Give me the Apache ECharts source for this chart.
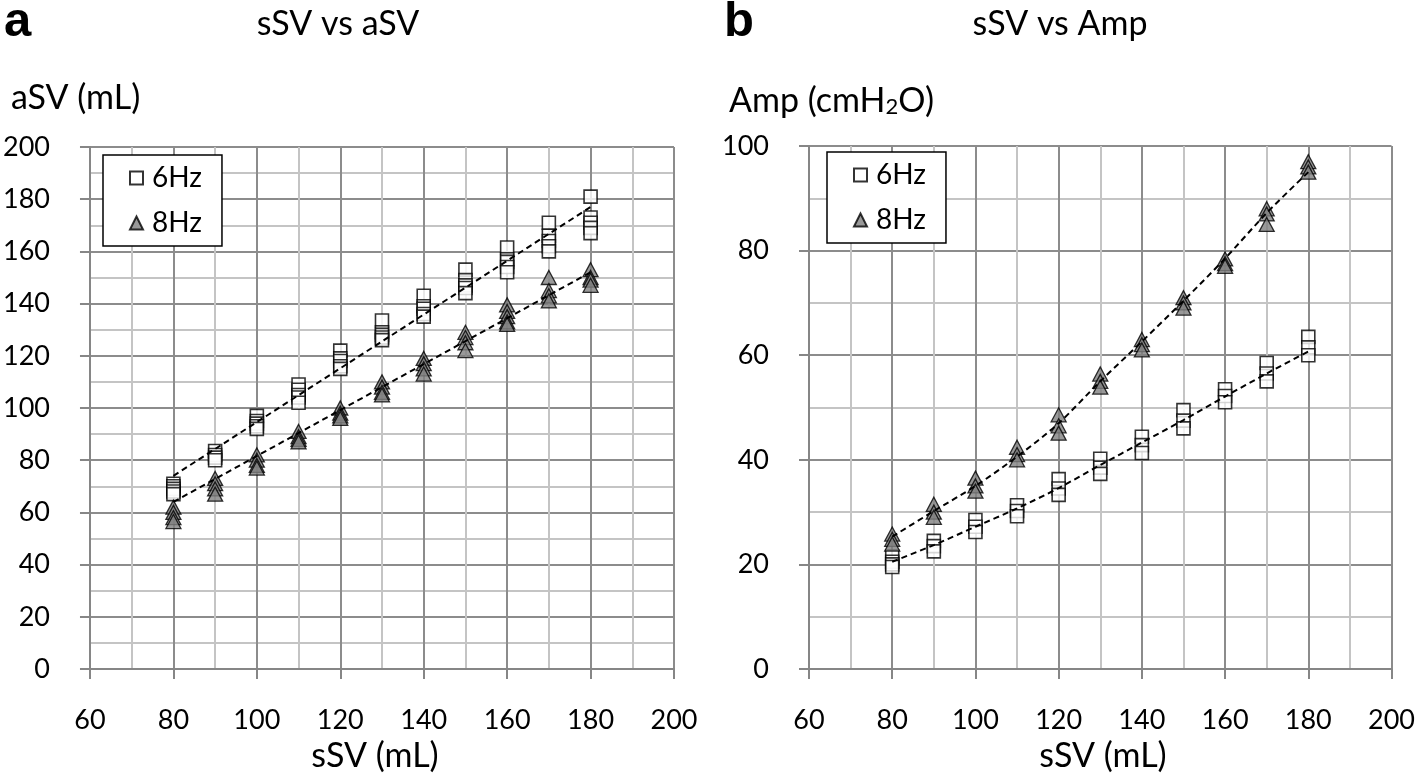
<!DOCTYPE html>
<html>
<head>
<meta charset="utf-8">
<script src="https://cdn.jsdelivr.net/npm/echarts@6/dist/echarts.min.js"></script>
<style>
  html, body { margin: 0; padding: 0; background: #fff; }
  #chart { width: 1418px; height: 779px; }
</style>
</head>
<body>
<div id="chart"></div>
<script>
// sSV steps (x) shared by both panels
var sSV = [80, 90, 100, 110, 120, 130, 140, 150, 160, 170, 180];

// panel a: aSV (mL), several subjects per step
var aSV6 = [
  [71, 70, 69, 68, 67], [83.5, 82, 81, 80], [97, 95, 94, 93, 92], [109, 107, 105, 104, 102],
  [122, 119, 118, 116, 115], [133.5, 129, 128, 127, 126], [143, 139, 138, 136, 135],
  [153, 149, 147, 146, 144], [161.5, 157, 156, 154, 152], [171, 166, 164, 162, 160],
  [181, 173, 171, 169, 167]
];
var aSV8 = [
  [62, 60, 58, 56.5], [73, 71, 69, 67], [82, 80, 78, 77], [91, 89, 88, 87],
  [100, 98, 97, 96], [110, 108, 106, 105], [119, 117, 115, 113], [129, 127, 125, 122],
  [139.5, 137, 135, 133, 132], [150, 145, 143, 141], [153, 150, 149, 147]
];
// panel a linear trend lines (end points)
var fitXa = [80, 180];
var fitA6 = [74, 177];
var fitA8 = [64, 152];

// panel b: Amp (cmH2O)
var amp6 = [
  [21.5, 20.5, 20, 19.5], [24.5, 23.5, 22.5], [28.5, 27.2, 26.2], [31.3, 30.2, 29.2],
  [36.3, 34.5, 33.3], [40.2, 38.5, 37.3], [44.4, 42.8, 41.3], [49.5, 47.5, 46],
  [53.5, 52.2, 51], [58.5, 56.5, 55], [63.5, 61.5, 60]
];
var amp8 = [
  [25.8, 24.8, 23.9], [31.5, 30, 29], [36.5, 35, 34], [42.4, 41, 40],
  [48.6, 46.5, 45.1], [56.4, 55, 53.9], [63, 62, 61], [71, 70, 69],
  [78.4, 77.5, 77], [88, 87, 85], [97, 96, 95]
];
// panel b curved trend lines read at each step
var fitB6 = [20.5, 23.7, 27.2, 30.7, 34.6, 39, 43.3, 47.6, 52.1, 56.5, 60.7];
var fitB8 = [25.3, 30.2, 35, 40.6, 47, 55, 62.6, 70.4, 78.5, 87.2, 95];

var FONT = 'Lato';

function points(xs, groups) {
  var out = [];
  groups.forEach(function (g, i) {
    g.forEach(function (v) { out.push([xs[i], v]); });
  });
  return out;
}
function pairs(xs, ys) {
  return xs.map(function (x, i) { return [x, ys[i]]; });
}

function xAxisCfg(idx) {
  return {
    type: 'value', gridIndex: idx, min: 60, max: 200, interval: 20,
    axisLine: { show: true, onZero: false, lineStyle: { color: '#868686', width: 2 } },
    axisTick: { show: true, length: 10, lineStyle: { color: '#868686', width: 2 } },
    minorTick: { show: false, splitNumber: 2 },
    splitLine: { show: true, lineStyle: { color: '#8c8c8c', width: 2 } },
    minorSplitLine: { show: true, lineStyle: { color: '#c4c4c4', width: 2 } },
    axisLabel: { margin: 38, fontSize: 27, fontFamily: FONT, color: '#000' }
  };
}
function yAxisCfg(idx, max) {
  return {
    type: 'value', gridIndex: idx, min: 0, max: max, interval: 20,
    axisLine: { show: true, onZero: false, lineStyle: { color: '#868686', width: 2 } },
    axisTick: { show: true, length: 10, lineStyle: { color: '#868686', width: 2 } },
    minorTick: { show: false, splitNumber: 2 },
    splitLine: { show: true, lineStyle: { color: '#8c8c8c', width: 2 } },
    minorSplitLine: { show: true, lineStyle: { color: '#c4c4c4', width: 2 } },
    axisLabel: { margin: 40, fontSize: 27, fontFamily: FONT, color: '#000' }
  };
}

var squareStyle = { color: '#fff', borderColor: '#000', borderWidth: 1.6 };
var triStyle = { color: '#7f7f7f', borderColor: '#000', borderWidth: 1.3 };
var fitStyle = { color: '#000', width: 2, type: [6, 4] };

function legendCfg(left, top) {
  return {
    orient: 'vertical', left: left, top: top,
    data: [{ name: '6Hz', icon: 'rect' }, { name: '8Hz', icon: 'triangle' }],
    itemWidth: 13, itemHeight: 13, itemGap: 17,
    textStyle: { fontSize: 28, fontFamily: FONT, color: '#000', padding: [0, 0, 0, 4] },
    borderColor: '#000', borderWidth: 1.5, backgroundColor: '#fff',
    padding: [9, 20, 9, 26], selectedMode: false
  };
}

function txt(x, y, text, size, weight, family, align) {
  return {
    type: 'text', x: x, y: y, silent: true,
    style: {
      text: text, fontSize: size, fontWeight: weight || 'normal',
      fontFamily: family || FONT, fill: '#000',
      align: align || 'left', verticalAlign: 'middle'
    }
  };
}

var option = {
  backgroundColor: '#fff',
  animation: false,
  grid: [
    { left: 86, top: 147, width: 588, height: 522 },
    { left: 809, top: 146, width: 588, height: 523 }
  ],
  xAxis: [xAxisCfg(0), xAxisCfg(1)],
  yAxis: [yAxisCfg(0, 200), yAxisCfg(1, 100)],
  legend: [legendCfg(103, 155), legendCfg(827, 152)],
  graphic: [
    txt(4, 22, 'a', 49, 'bold', 'Liberation Sans'),
    txt(724, 22, 'b', 49, 'bold', 'Liberation Sans'),
    txt(338, 24, 'sSV vs aSV', 34, 'normal', FONT, 'center'),
    txt(1060, 24, 'sSV vs Amp', 34, 'normal', FONT, 'center'),
    txt(11, 98, 'aSV (mL)', 34),
    {
      type: 'text', x: 729, y: 101, silent: true,
      style: {
        text: '{n|Amp (cmH}{s|2}{n|O)}', fill: '#000', verticalAlign: 'middle',
        rich: {
          n: { fontSize: 34, fontFamily: FONT, lineHeight: 34 },
          s: { fontSize: 22, fontFamily: FONT, lineHeight: 22, padding: [19, 0, 0, 0], verticalAlign: 'bottom' }
        }
      }
    },
    txt(375, 756, 'sSV (mL)', 34, 'normal', FONT, 'center'),
    txt(1103, 756, 'sSV (mL)', 34, 'normal', FONT, 'center')
  ],
  series: [
    { name: '6Hz', type: 'scatter', xAxisIndex: 0, yAxisIndex: 0, symbol: 'rect', symbolSize: 13,
      itemStyle: squareStyle, data: points(sSV, aSV6) },
    { name: '8Hz', type: 'scatter', xAxisIndex: 0, yAxisIndex: 0, symbol: 'triangle', symbolSize: [15, 14],
      itemStyle: triStyle, data: points(sSV, aSV8) },
    { name: 'fit a 6Hz', type: 'line', xAxisIndex: 0, yAxisIndex: 0, showSymbol: false, z: 5,
      lineStyle: fitStyle, data: pairs(fitXa, fitA6) },
    { name: 'fit a 8Hz', type: 'line', xAxisIndex: 0, yAxisIndex: 0, showSymbol: false, z: 5,
      lineStyle: fitStyle, data: pairs(fitXa, fitA8) },
    { name: '6Hz', type: 'scatter', xAxisIndex: 1, yAxisIndex: 1, symbol: 'rect', symbolSize: 13,
      itemStyle: squareStyle, data: points(sSV, amp6) },
    { name: '8Hz', type: 'scatter', xAxisIndex: 1, yAxisIndex: 1, symbol: 'triangle', symbolSize: [15, 14],
      itemStyle: triStyle, data: points(sSV, amp8) },
    { name: 'fit b 6Hz', type: 'line', xAxisIndex: 1, yAxisIndex: 1, showSymbol: false, smooth: 0.3, z: 5,
      lineStyle: fitStyle, data: pairs(sSV, fitB6) },
    { name: 'fit b 8Hz', type: 'line', xAxisIndex: 1, yAxisIndex: 1, showSymbol: false, smooth: 0.3, z: 5,
      lineStyle: fitStyle, data: pairs(sSV, fitB8) }
  ]
};

var myChart = echarts.init(document.getElementById('chart'));
myChart.setOption(option);
</script>
</body>
</html>
